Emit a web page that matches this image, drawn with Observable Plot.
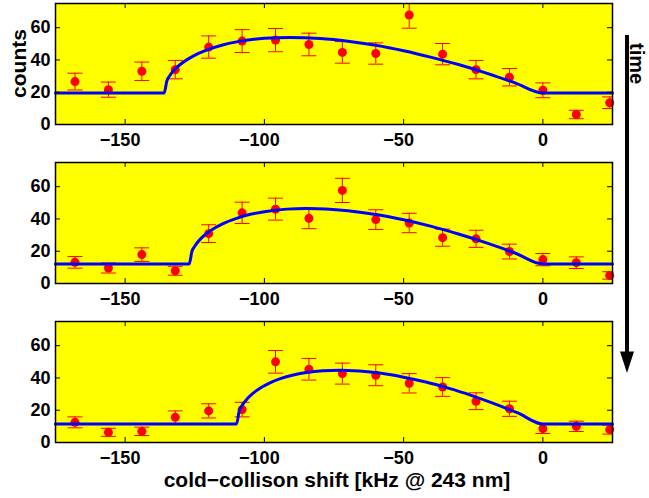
<!DOCTYPE html>
<html><head><meta charset="utf-8">
<script src="https://cdn.jsdelivr.net/npm/d3@7"></script>
<script src="https://cdn.jsdelivr.net/npm/@observablehq/plot@0.6"></script>
<style>
html,body{margin:0;padding:0;background:#fff;overflow:hidden;}
#wrap{position:relative;width:649px;height:498px;overflow:hidden;font-family:"Liberation Sans",Arial,sans-serif;font-weight:bold;}
#wrap > svg{position:absolute;left:0;}
</style></head><body><div id="wrap"></div>
<script>
// ---- data ----
const shiftX = [-168,-156,-144,-132,-120,-108,-96,-84,-72,-60,-48,-36,-24,-12,0,12,24];

const counts1 = [26.6,21.6,33,34,48,51.7,52.3,49.6,44.7,44,67.9,43.6,34,29.3,21.2,6.2,13.5];
const err1    = [5.2,4.7,5.7,5.7,6.9,7.1,7.2,7,6.7,6.6,8.2,6.6,5.7,5.4,4.6,2.6,3.6];
const counts2 = [13.1,9.6,17.9,7.9,30.9,43.8,46.1,40.4,57.7,39.6,37.5,28.4,27.7,19.8,14.8,12.9,5];
const err2    = [3.6,3.1,4.2,2.8,5.5,6.6,6.8,6.4,7.5,6.1,6,5.3,5.3,4.6,3.8,3.6,2.3];
const counts3 = [12.5,6.3,6.9,15.6,19.6,20.4,50,45.4,42.7,41.7,36.7,34.4,25.6,20.9,8.6,10,8];
const err3    = [3.4,2.5,2.6,4,4.4,4.5,7,6.7,6.5,6.5,6,5.8,5.2,4.7,3,3.2,2.8];

const fitX1 = [-175,-136,-135,-134,-132,-130,-127,-124,-120,-115,-110,-100,-91,-80,-70,-60,-50,-40,-30,-20,-10,0,25];
const fitY1 = [19.5,19.5,27.1,30.2,34.4,37.5,41.0,43.8,46.6,49.3,51.2,53.4,54.0,53.3,51.6,49.1,45.7,41.6,37.0,31.7,25.8,19.5,19.5];
const fitX2 = [-175,-127,-126,-125,-123,-121,-118,-115,-110,-105,-100,-92,-85,-78,-70,-60,-50,-40,-30,-20,-10,0,25];
const fitY2 = [12.1,12.1,20.0,23.1,27.5,30.6,34.2,37.0,40.4,42.9,44.5,46.1,46.5,46.2,45.1,42.8,39.5,35.4,30.5,25.0,18.9,12.1,12.1];
const fitX3 = [-175,-110,-109,-108,-106,-104,-101,-98,-94,-90,-85,-79,-73,-66,-58,-50,-42,-34,-26,-18,-9,0,25];
const fitY3 = [11.5,11.5,19.7,23.0,27.4,30.6,34.2,37.0,39.7,41.7,43.4,44.5,44.8,44.3,42.9,40.5,37.5,33.7,29.4,24.4,18.3,11.5,11.5];

const xTicks = [-150,-100,-50,0];
const yTicks = [0,20,40,60];
const xDomain = [-175,25];
const yDomain = [0,75];
const xLabel = "cold\u2212collison shift [kHz @ 243 nm]";
const yLabel = "counts";
const timeLabel = "time";

// ---- drawing ----
const wrap = document.getElementById("wrap");
const capSymbol = {draw(ctx){ ctx.moveTo(-7.5,0); ctx.lineTo(7.5,0); }};
const fmtX = d => d < 0 ? "\u2212" + Math.abs(d) + "\u2007" : String(d);
const H = 121, W = 557;

function panel(ys, errs, fx, fy, top) {
  const data = shiftX.map((x,i)=>({x, y: ys[i], lo: ys[i]-errs[i], hi: ys[i]+errs[i]}));
  const fit = fx.map((x,i)=>({x, y: fy[i]}));
  const svg = Plot.plot({
    width: 649, height: 3+H+36,
    marginLeft: 55, marginRight: 37, marginTop: 3, marginBottom: 36,
    x: {domain: xDomain},
    y: {domain: yDomain},
    style: {fontFamily: '"Liberation Sans", Arial, sans-serif', fontSize: "18px", fontWeight: "bold", color: "black", background: "transparent", overflow: "visible"},
    marks: [
      Plot.frame({fill: "#ffff00", stroke: null}),
      Plot.ruleX(data, {x: "x", y1: "lo", y2: "hi", stroke: "#ff0000", strokeWidth: 1, clip: true}),
      Plot.dot(data, {x: "x", y: "lo", symbol: capSymbol, stroke: "#ff0000", strokeWidth: 1, fill: "none", clip: true}),
      Plot.dot(data, {x: "x", y: "hi", symbol: capSymbol, stroke: "#ff0000", strokeWidth: 1, fill: "none", clip: true}),
      Plot.dot(data, {x: "x", y: "y", r: 4.5, fill: "#ff0000", stroke: null}),
      Plot.line(fit, {x: "x", y: "y", stroke: "#0000ff", strokeWidth: 3, curve: "monotone-x"}),
      Plot.tickX(xTicks, {x: d => d, insetBottom: H-5, stroke: "black", strokeWidth: 1}),
      Plot.tickX(xTicks, {x: d => d, insetTop: H-5, stroke: "black", strokeWidth: 1}),
      Plot.tickY(yTicks, {y: d => d, insetRight: W-5, stroke: "black", strokeWidth: 1}),
      Plot.tickY(yTicks, {y: d => d, insetLeft: W-5, stroke: "black", strokeWidth: 1}),
      Plot.frame({stroke: "black", strokeWidth: 1.5, fill: null}),
      Plot.axisX({ticks: xTicks, tickSize: 0, tickPadding: 9, tickFormat: fmtX, label: null, fill: "black"}),
      Plot.axisY({ticks: yTicks, tickSize: 0, tickPadding: 5, label: null, fill: "black"})
    ]
  });
  svg.style.top = top + "px";
  wrap.appendChild(svg);
}
panel(counts1, err1, fitX1, fitY1, 0);
panel(counts2, err2, fitX2, fitY2, 159);
panel(counts3, err3, fitX3, fitY3, 318);

// annotation overlay: axis titles and time arrow
const ns = "http://www.w3.org/2000/svg";
const ov = document.createElementNS(ns, "svg");
ov.setAttribute("width", 649); ov.setAttribute("height", 498);
ov.style.position = "absolute"; ov.style.top = "0px"; ov.style.left = "0px"; ov.style.pointerEvents = "none";
ov.setAttribute("font-family", '"Liberation Sans", Arial, sans-serif');
ov.setAttribute("font-weight", "bold");
function txt(s, x, y, size, anchor, rot) {
  const t = document.createElementNS(ns, "text");
  t.textContent = s;
  t.setAttribute("font-size", size);
  t.setAttribute("text-anchor", anchor);
  t.setAttribute("transform", `translate(${x},${y}) rotate(${rot})`);
  ov.appendChild(t);
}
txt(xLabel, 337, 487, 21, "middle", 0);
txt(yLabel, 25.5, 63.5, 21, "middle", -90);
txt(timeLabel, 630, 43, 20, "start", 90);
const ln = document.createElementNS(ns, "line");
ln.setAttribute("x1", 627); ln.setAttribute("x2", 627); ln.setAttribute("y1", 35); ln.setAttribute("y2", 355);
ln.setAttribute("stroke", "black"); ln.setAttribute("stroke-width", 4);
ov.appendChild(ln);
const hd = document.createElementNS(ns, "polygon");
hd.setAttribute("points", "620,351.5 634,351.5 627,373");
hd.setAttribute("fill", "black");
ov.appendChild(hd);
wrap.appendChild(ov);
</script></body></html>
